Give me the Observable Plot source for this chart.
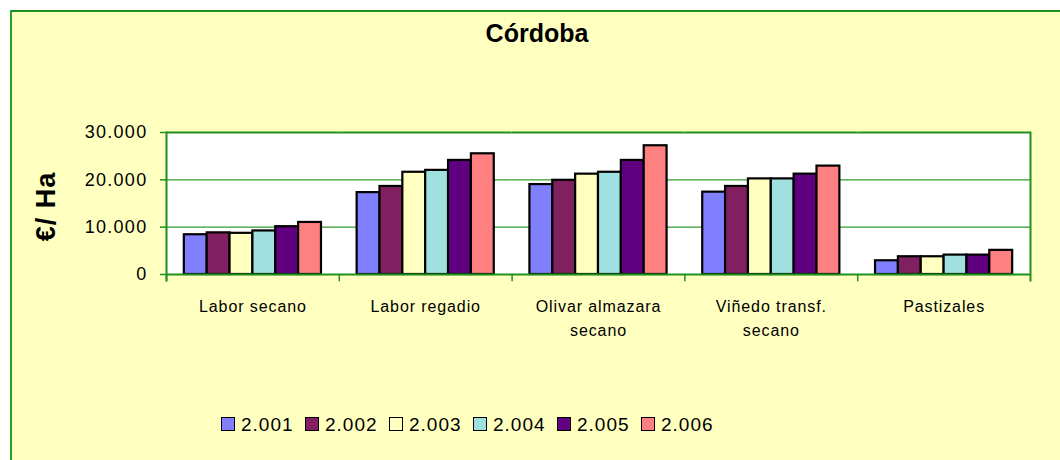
<!DOCTYPE html>
<html>
<head>
<meta charset="utf-8">
<script src="https://cdn.jsdelivr.net/npm/d3@7"></script>
<script src="https://cdn.jsdelivr.net/npm/@observablehq/plot@0.6"></script>
<style>
  html, body { margin: 0; padding: 0; background: #ffffff; width: 1060px; height: 460px; overflow: hidden; }
  body { position: relative; font-family: "Liberation Sans", Arial, sans-serif; }
  #bg { position: absolute; left: 10px; top: 10px; width: 1100px; height: 500px; background: #FFFFC0;
        border-top: 2px solid #1e911e; border-left: 2px solid #2c9c2c; }
  #title { position: absolute; left: 0; width: 1074px; top: 21px; text-align: center; font-weight: bold;
           font-size: 25px; line-height: 25px; color: #000; }
  #chart { position: absolute; left: 0; top: 100px; }
  #chart svg text { letter-spacing: 1.3px; }
  #chart g[aria-label="text"] text { letter-spacing: 0.9px; }
  #chart [aria-label="y-axis label"] text { font-size: 27px; font-weight: bold; letter-spacing: 1px; }
  .lg { position: absolute; top: 414px; height: 20px; display: flex; align-items: center; }
  .sw { width: 12px; height: 12px; border: 1.5px solid #000; margin-right: 6px; }
  .lt { font-size: 19px; line-height: 19px; letter-spacing: 1px; color: #000; }
</style>
</head>
<body>
<div id="bg"></div>
<div id="title">Córdoba</div>
<div id="chart"></div>
<div id="legend"></div>
<script>
const categories = ["Labor secano", "Labor regadio", "Olivar almazara secano", "Viñedo transf. secano", "Pastizales"];
const categoryLabels = ["Labor secano", "Labor regadio", "Olivar almazara\nsecano", "Viñedo transf.\nsecano", "Pastizales"];
const years = ["2.001", "2.002", "2.003", "2.004", "2.005", "2.006"];
const colors = ["#8080FF", "#802060", "#FFFFC0", "#A0E0E0", "#600080", "#FF8080"];
const s2001 = [8400, 17300, 19000, 17400, 2900];
const s2002 = [8800, 18600, 19900, 18600, 3750];
const s2003 = [8700, 21600, 21200, 20200, 3750];
const s2004 = [9200, 22000, 21600, 20200, 4100];
const s2005 = [10100, 24100, 24100, 21200, 4100];
const s2006 = [11000, 25500, 27200, 22900, 5100];
const yTicks = [0, 10000, 20000, 30000];

const series = [s2001, s2002, s2003, s2004, s2005, s2006];
const table = [];
categories.forEach((c, ci) => years.forEach((y, yi) => table.push({category: c, year: y, value: series[yi][ci]})));
const labelOf = new Map(categories.map((c, i) => [c, categoryLabels[i]]));
const fmt = d3.formatLocale({decimal: ",", thousands: ".", grouping: [3], currency: ["", "€"]}).format(",.0f");

const green = "#1e911e";
const chart = Plot.plot({
  width: 1060, height: 250,
  marginLeft: 166, marginRight: 30, marginTop: 32, marginBottom: 70,
  style: {fontFamily: "'Liberation Sans', Arial, sans-serif", background: "transparent", overflow: "visible", color: "#000"},
  fx: {domain: categories, padding: 0, round: false, axis: null, label: null},
  x: {domain: years, paddingInner: 0, paddingOuter: 0.78, round: false, axis: null, label: null},
  y: {domain: [0, 30000], insetBottom: 6, axis: null},
  color: {domain: years, range: colors},
  marks: [
    Plot.rect(categories, {fx: d => d, y1: 0, y2: 30000, fill: "white"}),
    Plot.ruleY([10000, 20000], {stroke: "#2f9d2f", strokeWidth: 1.3}),
    Plot.barY(table, {fx: "category", x: "year", y: "value", fill: "year", stroke: "#000", strokeWidth: 2.2}),
    Plot.ruleY([0, 30000], {stroke: green, strokeWidth: 2}),
    Plot.frame({anchor: "left", insetTop: 142, stroke: green, strokeWidth: 1.5}),
    Plot.frame({anchor: "left", fx: () => categories[0], stroke: green, strokeWidth: 2}),
    Plot.frame({anchor: "right", fx: () => categories[categories.length - 1], stroke: green, strokeWidth: 2}),
    Plot.axisY({ticks: yTicks, tickFormat: fmt, tickSize: 6, tickPadding: 13, stroke: green, strokeWidth: 1.5,
                fill: "#000", fontSize: 18, label: "€/ Ha", labelAnchor: "center", labelArrow: "none", labelOffset: 131}),
    Plot.text(categories, {fx: d => d, text: d => labelOf.get(d), frameAnchor: "bottom", dy: 14,
                           lineAnchor: "top", lineHeight: 1.5, fontSize: 16, fill: "#000"})
  ]
});
document.getElementById("chart").appendChild(chart);

const legend = document.getElementById("legend");
years.forEach((y, i) => {
  const item = document.createElement("div");
  item.className = "lg";
  item.style.left = (221 + i * 84) + "px";
  const sw = document.createElement("div");
  sw.className = "sw";
  sw.style.background = colors[i];
  const t = document.createElement("span");
  t.className = "lt";
  t.textContent = y;
  item.appendChild(sw);
  item.appendChild(t);
  legend.appendChild(item);
});
</script>
</body>
</html>
